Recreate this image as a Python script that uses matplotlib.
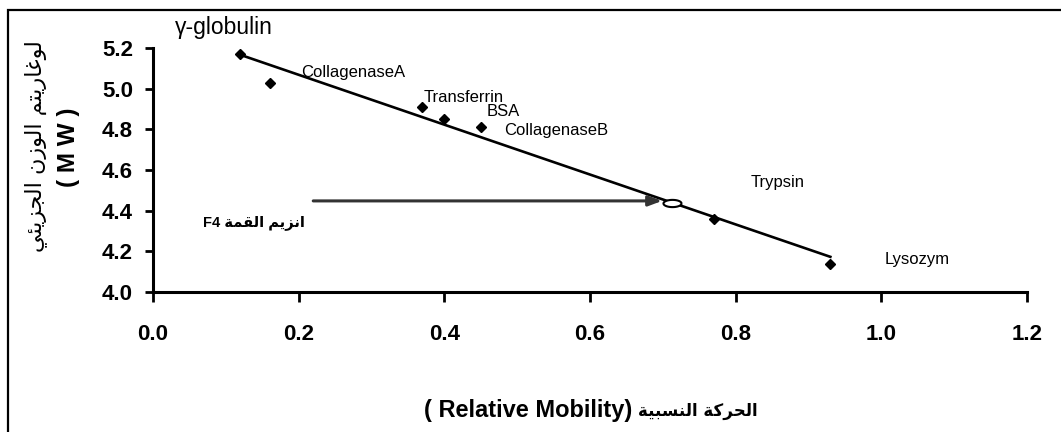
import numpy as np
import matplotlib
matplotlib.use('Agg')
import matplotlib.pyplot as plt
from matplotlib.patches import Rectangle

# --- data ---
proteins = ['γ-globulin', 'CollagenaseA', 'Transferrin', 'BSA',
            'CollagenaseB', 'Trypsin', 'Lysozym']
mobility = [0.12, 0.16, 0.37, 0.40, 0.45, 0.77, 0.93]
log_mw = [5.17, 5.03, 4.91, 4.85, 4.81, 4.36, 4.14]

f4_mobility = 0.713
f4_log_mw = 4.44
arrow_start = 0.22

xticks = [0.0, 0.2, 0.4, 0.6, 0.8, 1.0, 1.2]
yticks = [4.0, 4.2, 4.4, 4.6, 4.8, 5.0, 5.2]

# Arabic presentation forms: isolated, final, initial, medial
FORMS = {
    'ا': ('\uFE8D', '\uFE8E', None, None),
    'ب': ('\uFE8F', '\uFE90', '\uFE91', '\uFE92'),
    'ة': ('\uFE93', '\uFE94', None, None),
    'ت': ('\uFE95', '\uFE96', '\uFE97', '\uFE98'),
    'ج': ('\uFE9D', '\uFE9E', '\uFE9F', '\uFEA0'),
    'ح': ('\uFEA1', '\uFEA2', '\uFEA3', '\uFEA4'),
    'ر': ('\uFEAD', '\uFEAE', None, None),
    'ز': ('\uFEAF', '\uFEB0', None, None),
    'س': ('\uFEB1', '\uFEB2', '\uFEB3', '\uFEB4'),
    'غ': ('\uFECD', '\uFECE', '\uFECF', '\uFED0'),
    'ق': ('\uFED5', '\uFED6', '\uFED7', '\uFED8'),
    'ك': ('\uFED9', '\uFEDA', '\uFEDB', '\uFEDC'),
    'ل': ('\uFEDD', '\uFEDE', '\uFEDF', '\uFEE0'),
    'م': ('\uFEE1', '\uFEE2', '\uFEE3', '\uFEE4'),
    'ن': ('\uFEE5', '\uFEE6', '\uFEE7', '\uFEE8'),
    'و': ('\uFEED', '\uFEEE', None, None),
    'ي': ('\uFEF1', '\uFEF2', '\uFEF3', '\uFEF4'),
    'ئ': ('\uFE89', '\uFE8A', '\uFE8B', '\uFE8C'),
}


def arabic(s):
    # join letters and flip to visual order (no bidi in matplotlib)
    out = []
    for i, c in enumerate(s):
        f = FORMS.get(c)
        if f is None:
            out.append(c)
            continue
        prev = s[i-1] if i > 0 else ''
        nxt = s[i+1] if i + 1 < len(s) else ''
        jp = prev in FORMS and FORMS[prev][2] is not None
        jn = f[2] is not None and nxt in FORMS
        if jp and jn:
            out.append(f[3])
        elif jp:
            out.append(f[1])
        elif jn:
            out.append(f[2])
        else:
            out.append(f[0])
    return ''.join(reversed(out))


ylabel_ar = 'لوغاريتم الوزن الجزيئي'
xlabel_ar = 'الحركة النسبية'
f4_ar = 'انزيم القمة'

W, H = 1061, 432
fig = plt.figure(figsize=(W/100, H/100), dpi=100)
ax = fig.add_axes([153/W, 1-292/H, 874/W, 244/H])

ax.set_xlim(0, 1.2)
ax.set_ylim(4.0, 5.2)
for s in ['top', 'right']:
    ax.spines[s].set_visible(False)
for s in ['left', 'bottom']:
    ax.spines[s].set_linewidth(2.2)
ax.set_xticks(xticks)
ax.set_yticks(yticks)
ax.set_xticklabels(['%.1f' % v for v in xticks])
ax.set_yticklabels(['%.1f' % v for v in yticks])
ax.tick_params(axis='x', length=7, width=2, pad=16)
ax.tick_params(axis='y', length=5.5, width=2, pad=9)
for lab in ax.get_xticklabels() + ax.get_yticklabels():
    lab.set_fontfamily('Liberation Sans')
    lab.set_fontweight('bold')
    lab.set_fontsize(16)

# trend line
k, b = np.polyfit(mobility, log_mw, 1)
xs = np.array([min(mobility), max(mobility)])
ax.plot(xs, k*xs + b, color='black', lw=1.9, zorder=2)

ax.plot(mobility, log_mw, linestyle='none', marker='D', ms=5.5,
        color='black', zorder=3, clip_on=False)

# F4 open ellipse marker
t = np.linspace(0, 2*np.pi, 60)
ell = list(zip(np.cos(t), 0.4*np.sin(t)))
ax.plot([f4_mobility], [f4_log_mw], linestyle='none', marker=ell, ms=13,
        mfc='white', mec='black', mew=1.5, zorder=4)

ax.annotate('', xy=(f4_mobility - 0.014, f4_log_mw + 0.008),
            xytext=(arrow_start, f4_log_mw + 0.008),
            arrowprops=dict(arrowstyle='-|>,head_length=0.8,head_width=0.3',
                            color='#333333', lw=2.2, shrinkA=0, shrinkB=0))

# protein labels
label_xy = [(0.03, 5.30), (0.203, 5.08), (0.371, 4.955), (0.458, 4.89),
            (0.482, 4.795), (0.82, 4.54), (1.005, 4.16)]
for name, (lx, ly) in zip(proteins, label_xy):
    fs = 16.5 if name.startswith('γ') else 12
    ax.text(lx, ly, name, fontsize=fs, family=['Liberation Sans', 'DejaVu Sans'],
            ha='left', va='center', clip_on=False)

ax.text(0.068, 4.342, 'F4 ' + arabic(f4_ar), fontsize=10.5, fontweight='bold',
        family=['Liberation Sans', 'DejaVu Sans'], ha='left', va='center')

# axis titles
fig.text(632/W, 1-410/H, '( Relative Mobility)', fontsize=17, fontweight='bold',
         family='Liberation Sans', ha='right', va='center')
fig.text(638/W, 1-411/H, arabic(xlabel_ar), fontsize=12, fontweight='bold',
         family='DejaVu Sans', ha='left', va='center')
fig.text(36/W, 1-146/H, arabic(ylabel_ar), fontsize=16, family='DejaVu Sans',
         rotation=90, ha='center', va='center')
fig.text(69/W, 1-147/H, '( M W )', fontsize=17.5, fontweight='bold',
         family='Liberation Sans', rotation=90, ha='center', va='center')

# outer frame
fig.add_artist(Rectangle((8/W, -0.05), 1.1, 1.05 - 10/H, transform=fig.transFigure,
                         fill=False, lw=1.6, ec='black'))

fig.savefig('out.png', dpi=100)
